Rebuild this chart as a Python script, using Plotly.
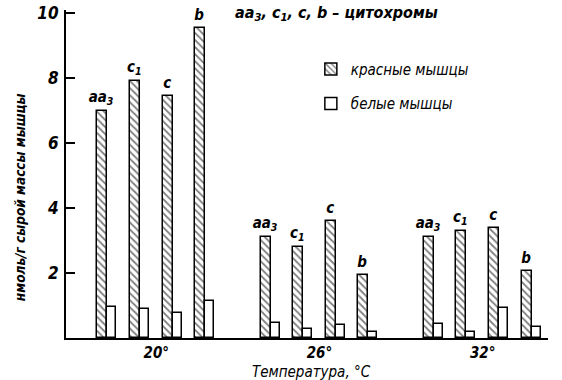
import plotly.graph_objects as go

temps = ["20°", "26°", "32°"]
cytochromes = ["aa<sub>3</sub>", "c<sub>1</sub>", "c", "b"]
red_values = [[7.0, 7.9, 7.45, 9.55],
              [3.1, 2.8, 3.6, 1.95],
              [3.1, 3.3, 3.4, 2.05]]
white_values = [[0.95, 0.9, 0.78, 1.15],
                [0.45, 0.28, 0.4, 0.2],
                [0.42, 0.18, 0.93, 0.33]]

FONT = "Liberation Sans Narrow, DejaVu Sans Condensed, Arial Narrow, sans-serif"

xs, reds, whites, labels = [], [], [], []
for g in range(len(temps)):
    for k in range(len(cytochromes)):
        xs.append(g * 5 + k)
        reds.append(red_values[g][k])
        whites.append(white_values[g][k])
        labels.append(cytochromes[k])

fig = go.Figure()
fig.add_trace(go.Bar(
    x=xs, y=reds, width=0.306, offset=-0.306,
    name="красные мышцы", legendgroup="r",
    marker=dict(color="white", line=dict(color="black", width=1.5),
                pattern=dict(shape="\\", size=5, solidity=0.35,
                             fgcolor="black", bgcolor="white")),
    text=labels, textposition="outside", constraintext="none", cliponaxis=False,
    textfont=dict(family=FONT, size=15, color="black", style="italic", weight="bold"),
))
fig.add_trace(go.Bar(
    x=xs, y=whites, width=0.276, offset=0,
    name="белые мышцы", legendgroup="w",
    marker=dict(color="white", line=dict(color="black", width=1.5)),
))

group_centers = [g * 5 + 1.5 for g in range(len(temps))]

fig.update_layout(
    width=562, height=380,
    margin=dict(l=66, r=14, t=10, b=42, autoexpand=False),
    plot_bgcolor="white", paper_bgcolor="white",
    bargap=0, barmode="overlay",
    font=dict(family=FONT, color="black", style="italic"),
    showlegend=True,
    legend=dict(x=0.508, y=0.87, xanchor="left", yanchor="top",
                font=dict(family=FONT, size=15, style="italic"),
                tracegroupgap=12, bgcolor="rgba(0,0,0,0)"),
    xaxis=dict(range=[-1.265, 13.5], showline=True, linecolor="black", linewidth=2,
               tickvals=group_centers, ticktext=temps, ticks="", showgrid=False,
               zeroline=False, automargin=False,
               tickfont=dict(family=FONT, size=15, style="italic", weight="bold")),
    yaxis=dict(range=[0, 10.1], showline=True, linecolor="black", linewidth=2,
               tickvals=[2, 4, 6, 8, 10], ticktext=["2", "4", "6", "8", "10"],
               ticks="inside", ticklen=9, tickwidth=1.5, tickcolor="black",
               showgrid=False, zeroline=False, ticklabelstandoff=2, automargin=False,
               ticklabeloverflow="allow",
               tickfont=dict(family=FONT, size=17, style="italic", weight="bold")),
    annotations=[
        dict(text="aa<sub>3</sub>, c<sub>1</sub>, c, b – цитохромы", xref="paper", yref="paper",
             x=0.346, y=0.99, xanchor="left", yanchor="middle", showarrow=False,
             font=dict(family=FONT, size=16, style="italic", weight="bold")),
        dict(text="нмоль/г сырой массы мышцы", xref="paper", yref="paper",
             x=-0.095, y=0.43, xanchor="center", yanchor="middle", textangle=-90,
             showarrow=False,
             font=dict(family=FONT, size=13.5, style="italic", weight="bold")),
        dict(text="Температура, °C", xref="paper", yref="paper",
             x=0.51, y=-0.103, xanchor="center", yanchor="middle", showarrow=False,
             font=dict(family=FONT, size=15, style="italic")),
    ],
)

fig.write_html("out.html", config={"displayModeBar": False},
               post_script="document.body.style.margin='0';")
